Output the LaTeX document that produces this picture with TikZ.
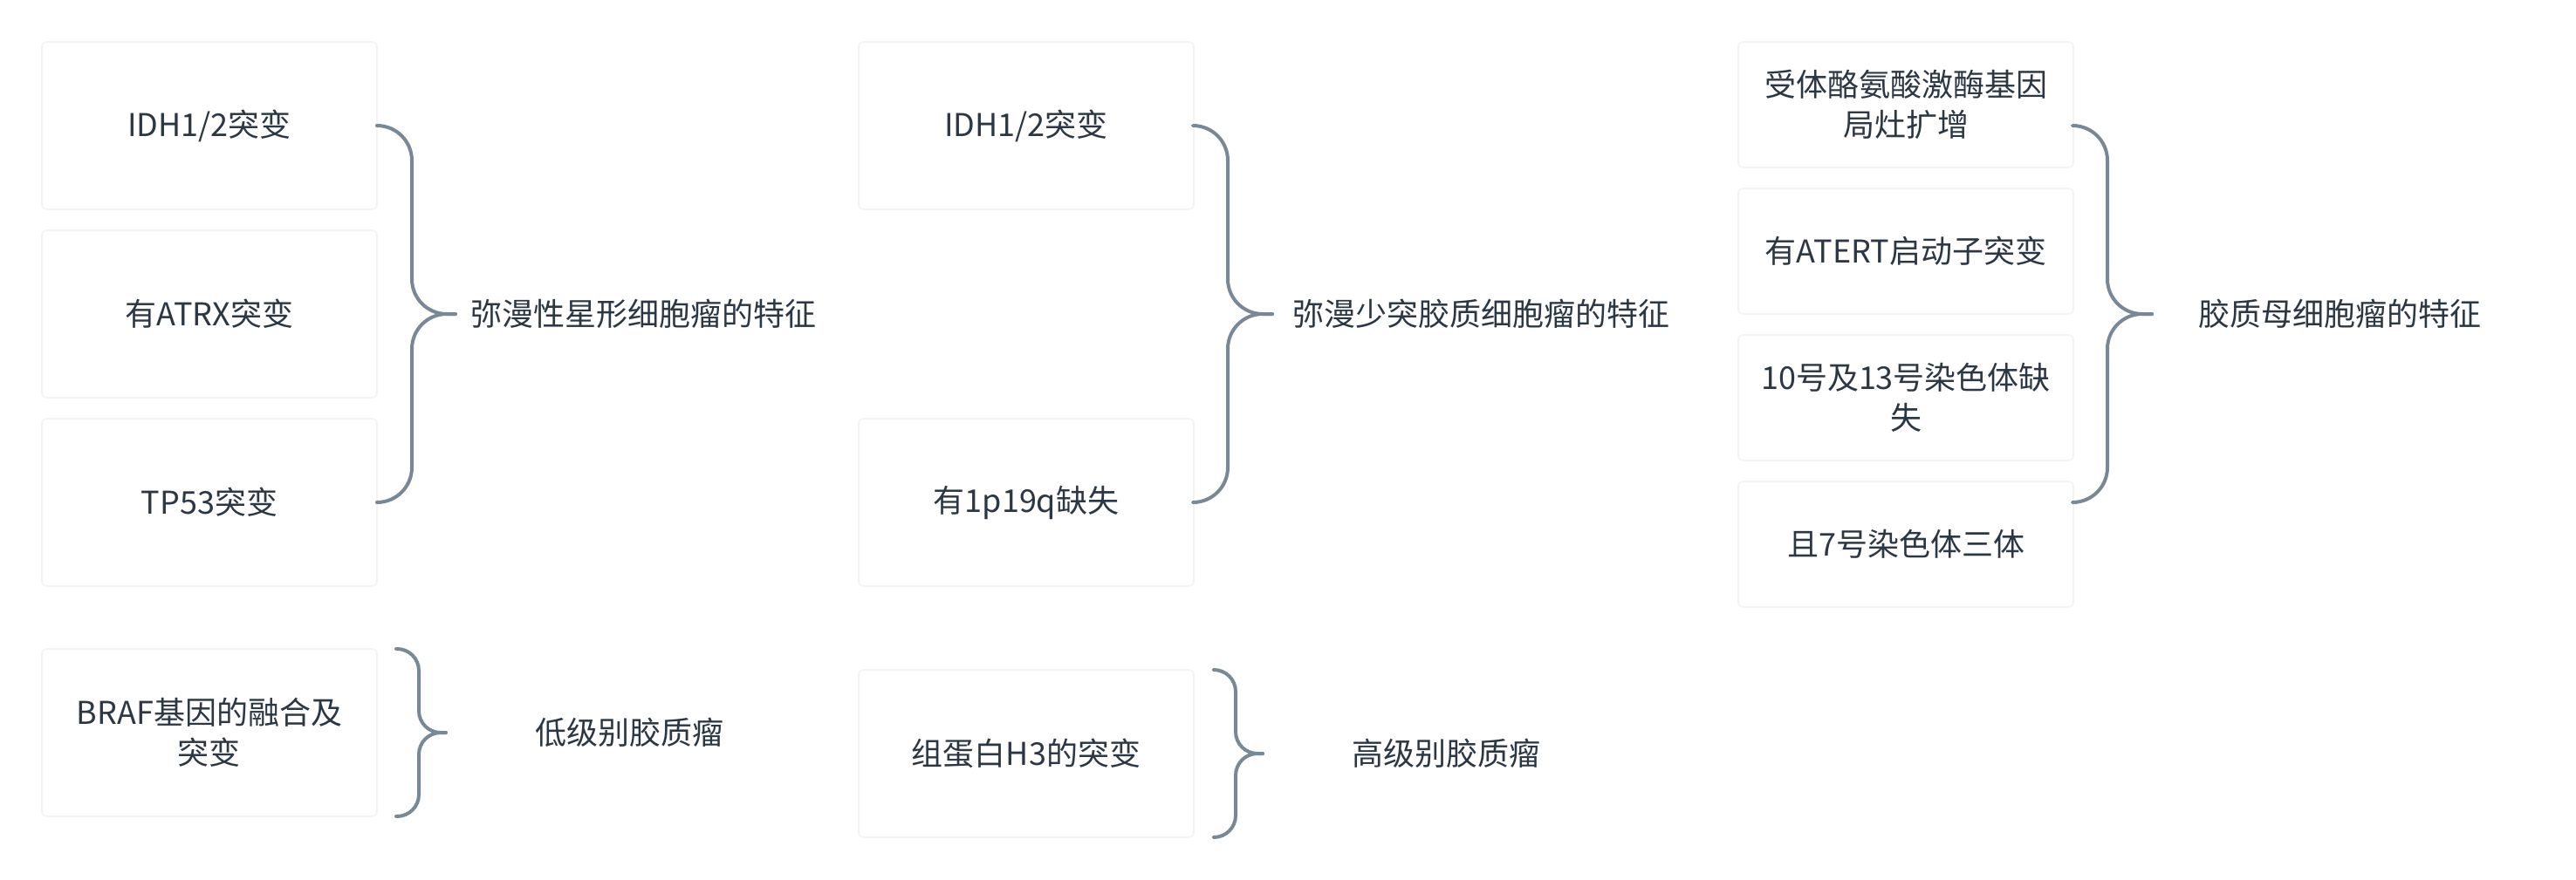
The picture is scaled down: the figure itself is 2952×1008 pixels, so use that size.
\documentclass[tikz,border=0pt]{standalone}
\usepackage{fontspec}
\setmainfont{Noto Sans CJK SC}
\usetikzlibrary{positioning}
\definecolor{txtcol}{RGB}{43,55,68}
\definecolor{brkcol}{RGB}{120,136,150}
\definecolor{boxline}{RGB}{244,244,244}
\begin{document}
\begin{tikzpicture}[x=0.5pt, y=-0.5pt, line join=round, line cap=round,
	font=\fontsize{18pt}{23pt}\selectfont, text=txtcol,
	box/.style={draw=boxline, line width=1pt, fill=white, rounded corners=3pt, outer sep=0pt,
		minimum width=192pt, minimum height=96pt, align=center, inner sep=0pt},
	sbox/.style={box, minimum height=72pt},
	lab/.style={anchor=west, inner sep=0pt},
	brk/.style={draw=brkcol, line width=2pt, rounded corners=20pt},
	sbrk/.style={brk, rounded corners=12.5pt}]
	\useasboundingbox (0,0) rectangle (2952,1008);
	% 弥漫性星形细胞瘤
	\node[box] (a1) at (240,144) {IDH1/2突变};
	\node[box, below=12pt of a1] (a2) {有ATRX突变};
	\node[box, below=12pt of a2] (a3) {TP53突变};
	\coordinate (at) at (522,360);
	\node[lab] (alab) at (539,360) {弥漫性星形细胞瘤的特征};
	\draw[brk] (a1.east) -| ([xshift=-25pt]at) -- (at);
	\draw[brk] (at) -- ([xshift=-25pt]at) |- (a3.east);
	% 弥漫少突胶质细胞瘤
	\node[box] (b1) at (1176,144) {IDH1/2突变};
	\node[box] (b2) at (1176,576) {有1p19q缺失};
	\coordinate (bt) at (1458,360);
	\node[lab] (blab) at (1481,360) {弥漫少突胶质细胞瘤的特征};
	\draw[brk] (b1.east) -| ([xshift=-25.5pt]bt) -- (bt);
	\draw[brk] (bt) -- ([xshift=-25.5pt]bt) |- (b2.east);
	% 胶质母细胞瘤
	\node[sbox] (c1) at (2184,120) {受体酪氨酸激酶基因\\局灶扩增};
	\node[sbox, below=12pt of c1] (c2) {有ATERT启动子突变};
	\node[sbox, below=12pt of c2] (c3) {10号及13号染色体缺\\失};
	\node[sbox, below=12pt of c3] (c4) {且7号染色体三体};
	\coordinate (c1e) at (2376,144);
	\coordinate (c4e) at (2376,576);
	\coordinate (ct) at (2466,360);
	\node[lab] (clab) at (2519,360) {胶质母细胞瘤的特征};
	\draw[brk] (c1e) -| ([xshift=-25.5pt]ct) -- (ct);
	\draw[brk] (ct) -- ([xshift=-25.5pt]ct) |- (c4e);
	% 低级别 / 高级别
	\node[box] (d1) at (240,840) {BRAF基因的融合及\\突变};
	\coordinate (dt) at (511,840);
	\node[lab] (dlab) at (613,840) {低级别胶质瘤};
	\draw[sbrk] ([xshift=11pt]d1.north east) -| ([xshift=-15.5pt]dt) -- (dt);
	\draw[sbrk] (dt) -- ([xshift=-15.5pt]dt) |- ([xshift=11pt]d1.south east);
	\node[box] (e1) at (1176,864) {组蛋白H3的突变};
	\coordinate (et) at (1447,864);
	\node[lab] (elab) at (1549,864) {高级别胶质瘤};
	\draw[sbrk] ([xshift=11.5pt]e1.north east) -| ([xshift=-15.5pt]et) -- (et);
	\draw[sbrk] (et) -- ([xshift=-15.5pt]et) |- ([xshift=11.5pt]e1.south east);
\end{tikzpicture}
\end{document}
